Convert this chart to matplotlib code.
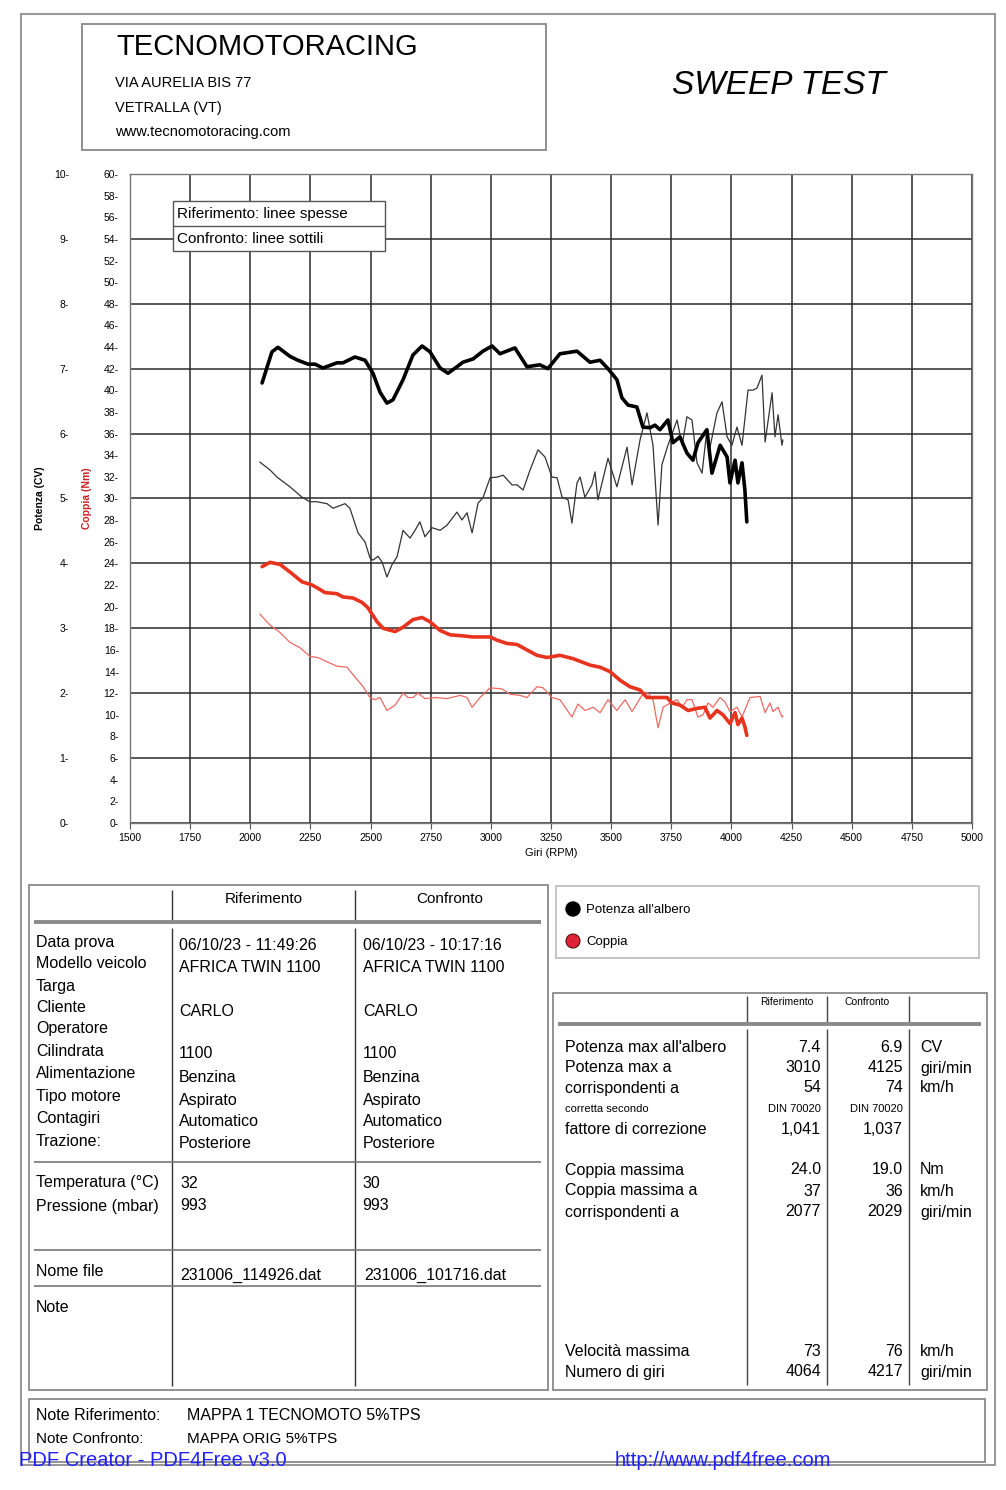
import matplotlib
matplotlib.use("Agg")
import matplotlib.pyplot as plt
from matplotlib.patches import Rectangle, Circle

W, H = 1006, 1490
FONT = ['Liberation Sans', 'DejaVu Sans']
plt.rcParams['font.family'] = FONT

# --- curve data (rpm, value) ---
# riferimento, potenza (CV) - thick black
rif_pot_rpm = [2049, 2090, 2115, 2165, 2198, 2240, 2269, 2302, 2360, 2385,
               2435, 2477, 2510, 2539, 2568, 2593, 2635, 2676, 2714, 2747,
               2789, 2822, 2859, 2884, 2926, 2967, 3005, 3038, 3100, 3150,
               3204, 3237, 3287, 3358, 3412, 3454, 3487, 3524, 3545, 3570,
               3607, 3632, 3662, 3682, 3703, 3736, 3757, 3786, 3815, 3840,
               3861, 3898, 3919, 3953, 3982, 3994, 4015, 4027, 4044, 4056, 4064]
rif_pot_cv = [6.78, 7.26, 7.33, 7.19, 7.13, 7.07, 7.07, 7.01, 7.09, 7.09,
              7.18, 7.13, 6.93, 6.64, 6.47, 6.52, 6.83, 7.21, 7.35, 7.26,
              7.01, 6.93, 7.03, 7.10, 7.15, 7.27, 7.35, 7.23, 7.32, 7.03,
              7.06, 7.00, 7.23, 7.27, 7.10, 7.13, 7.00, 6.83, 6.55, 6.44,
              6.41, 6.10, 6.09, 6.13, 6.06, 6.21, 5.86, 5.95, 5.70, 5.59,
              5.86, 6.06, 5.39, 5.82, 5.64, 5.24, 5.59, 5.24, 5.55, 5.13, 4.64]

# confronto, potenza (CV) - thin black
con_pot_rpm = [2040, 2082, 2111, 2165, 2215, 2248, 2277, 2319, 2344, 2394,
               2414, 2448, 2477, 2498, 2510, 2531, 2548, 2568, 2589, 2610,
               2635, 2664, 2685, 2705, 2726, 2755, 2789, 2818, 2859, 2880,
               2901, 2922, 2947, 2967, 2997, 3026, 3051, 3088, 3109, 3134,
               3163, 3196, 3225, 3254, 3275, 3296, 3321, 3337, 3358, 3371,
               3391, 3420, 3433, 3445, 3487, 3524, 3566, 3587, 3620, 3649,
               3674, 3695, 3711, 3736, 3774, 3795, 3815, 3836, 3857, 3878,
               3898, 3911, 3940, 3961, 3982, 4002, 4023, 4044, 4069, 4090,
               4106, 4127, 4140, 4169, 4181, 4194, 4210, 4214]
con_pot_cv = [5.56, 5.44, 5.33, 5.18, 5.02, 4.95, 4.95, 4.92, 4.85, 4.92,
              4.85, 4.47, 4.33, 4.08, 4.05, 4.11, 4.02, 3.79, 3.98, 4.10,
              4.51, 4.39, 4.51, 4.64, 4.41, 4.55, 4.51, 4.59, 4.79, 4.67,
              4.78, 4.47, 4.93, 5.01, 5.32, 5.33, 5.36, 5.21, 5.21, 5.13,
              5.44, 5.75, 5.64, 5.33, 5.32, 5.02, 4.98, 4.62, 5.24, 5.33,
              5.02, 5.21, 5.41, 4.98, 5.62, 5.18, 5.79, 5.21, 5.90, 6.32,
              5.82, 4.59, 5.52, 5.82, 6.21, 5.82, 6.26, 6.21, 5.55, 5.39,
              6.06, 5.79, 6.32, 6.49, 5.95, 5.82, 6.10, 5.82, 6.67, 6.67,
              6.70, 6.90, 5.87, 6.63, 5.95, 6.29, 5.82, 5.90]

# riferimento, coppia (Nm) - thick red
rif_cop_rpm = [2049, 2082, 2124, 2165, 2215, 2257, 2281, 2311, 2360, 2385,
               2427, 2464, 2489, 2527, 2552, 2602, 2635, 2676, 2714, 2747,
               2789, 2830, 2884, 2926, 2997, 3026, 3067, 3109, 3150, 3192,
               3233, 3287, 3341, 3412, 3454, 3495, 3537, 3578, 3620, 3649,
               3691, 3732, 3753, 3786, 3820, 3857, 3890, 3911, 3940, 3965,
               3994, 4015, 4027, 4044, 4056, 4064]
rif_cop_nm = [23.7, 24.1, 23.9, 23.2, 22.3, 22.0, 21.7, 21.3, 21.2, 20.9,
              20.8, 20.4, 19.9, 18.6, 18.0, 17.7, 18.1, 18.8, 19.0, 18.6,
              17.8, 17.4, 17.3, 17.2, 17.2, 16.9, 16.6, 16.5, 16.0, 15.5,
              15.3, 15.5, 15.2, 14.6, 14.4, 14.0, 13.2, 12.6, 12.3, 11.6,
              11.6, 11.6, 11.1, 10.9, 10.4, 10.6, 10.7, 9.7, 10.4, 10.0,
              9.2, 10.2, 9.1, 9.7, 8.9, 8.1]

# confronto, coppia (Nm) - thin red
con_cop_rpm = [2040, 2082, 2124, 2165, 2207, 2248, 2281, 2319, 2360, 2402,
               2435, 2469, 2498, 2518, 2539, 2568, 2602, 2635, 2656, 2676,
               2697, 2726, 2768, 2818, 2872, 2901, 2922, 2955, 2997, 3046,
               3080, 3121, 3150, 3192, 3217, 3254, 3287, 3337, 3362, 3391,
               3425, 3454, 3487, 3524, 3558, 3587, 3628, 3649, 3674, 3695,
               3716, 3753, 3774, 3795, 3815, 3836, 3861, 3882, 3903, 3923,
               3953, 3973, 3994, 4023, 4044, 4077, 4119, 4140, 4160, 4173,
               4194, 4210, 4214]
con_cop_nm = [19.3, 18.3, 17.6, 16.7, 16.2, 15.4, 15.3, 14.9, 14.5, 14.4,
              13.5, 12.6, 11.6, 11.4, 11.6, 10.4, 10.9, 12.0, 11.6, 11.6,
              12.0, 11.5, 11.6, 11.5, 11.8, 11.6, 10.7, 11.6, 12.5, 12.4,
              11.9, 11.8, 11.6, 12.6, 12.5, 11.6, 11.4, 9.8, 11.0, 10.4,
              10.7, 10.2, 11.4, 10.4, 11.4, 10.3, 11.8, 12.1, 11.4, 8.8,
              10.7, 11.2, 11.4, 10.7, 11.4, 11.4, 9.8, 10.0, 11.1, 10.7,
              11.6, 11.2, 10.3, 10.7, 9.8, 11.6, 11.7, 10.2, 11.1, 10.3,
              10.7, 9.8, 9.9]

rpm_ticks = list(range(1500, 5001, 250))
cv_ticks = list(range(0, 11))
nm_ticks = list(range(0, 61, 2))

# --- table contents ---
info_labels = ["Data prova", "Modello veicolo", "Targa", "Cliente", "Operatore",
               "Cilindrata", "Alimentazione", "Tipo motore", "Contagiri", "Trazione:"]
info_rif = ["06/10/23 - 11:49:26", "AFRICA TWIN 1100", "", "CARLO", "",
            "1100", "Benzina", "Aspirato", "Automatico", "Posteriore"]
info_con = ["06/10/23 - 10:17:16", "AFRICA TWIN 1100", "", "CARLO", "",
            "1100", "Benzina", "Aspirato", "Automatico", "Posteriore"]
amb_labels = ["Temperatura (°C)", "Pressione (mbar)"]
amb_rif = ["32", "993"]
amb_con = ["30", "993"]
file_rif = "231006_114926.dat"
file_con = "231006_101716.dat"

res_labels = ["Potenza max all'albero", "Potenza max a", "corrispondenti a",
              "corretta secondo", "fattore di correzione"]
res_rif = ["7.4", "3010", "54", "DIN 70020", "1,041"]
res_con = ["6.9", "4125", "74", "DIN 70020", "1,037"]
res_units = ["CV", "giri/min", "km/h", "", ""]
cop_labels = ["Coppia massima", "Coppia massima a", "corrispondenti a"]
cop_rif = ["24.0", "37", "2077"]
cop_con = ["19.0", "36", "2029"]
cop_units = ["Nm", "km/h", "giri/min"]
vel_labels = ["Velocità massima", "Numero di giri"]
vel_rif = ["73", "4064"]
vel_con = ["76", "4217"]
vel_units = ["km/h", "giri/min"]

fig = plt.figure(figsize=(W / 100, H / 100), dpi=100)
fig.patch.set_facecolor('white')

# main chart
ax = fig.add_axes([130 / W, 1 - 823 / H, 842 / W, 649 / H])
ax.set_xlim(1500, 5000)
ax.set_ylim(0, 10)
ax.set_xticks(rpm_ticks)
ax.set_yticks(cv_ticks)
ax.set_yticklabels([f"{v}-" for v in cv_ticks])
ax.grid(True, color='#2a2a2a', lw=1.1)
ax.set_axisbelow(True)
ax.tick_params(axis='y', length=0, pad=44, labelsize=7.5)
ax.tick_params(axis='x', direction='out', length=4, width=0.8, color='#555',
               labelsize=7.5, pad=3)
for s in ax.spines.values():
    s.set_color('#777')
    s.set_linewidth(1.0)
ax.set_xlabel("Giri (RPM)", fontsize=8, labelpad=4)

axt = ax.twinx()
axt.set_ylim(0, 60)
axt.set_yticks(nm_ticks)
axt.set_yticklabels([f"{v}-" for v in nm_ticks])
axt.yaxis.set_ticks_position('left')
axt.tick_params(axis='y', length=0, pad=8, labelsize=7.5)
for s in axt.spines.values():
    s.set_visible(False)

ax.plot(con_pot_rpm, con_pot_cv, color='#333333', lw=0.9, zorder=3)
ax.plot(rif_pot_rpm, rif_pot_cv, color='black', lw=2.6, zorder=4,
        solid_joinstyle='round', solid_capstyle='round')
axt.plot(con_cop_rpm, con_cop_nm, color='#f06a62', lw=0.9, zorder=3)
axt.plot(rif_cop_rpm, rif_cop_nm, color='#e8331f', lw=2.6, zorder=4,
         solid_joinstyle='round', solid_capstyle='round')

# overlay in pixel coordinates for the page layout
ov = fig.add_axes([0, 0, 1, 1], zorder=10)
ov.set_xlim(0, W)
ov.set_ylim(H, 0)
ov.set_axis_off()


def box(x0, y0, x1, y1, ec='#8a8a8a', lw=1.3, fc='none'):
    ov.add_patch(Rectangle((x0, y0), x1 - x0, y1 - y0, ec=ec, fc=fc, lw=lw))


def hl(x0, x1, y, c='#555', lw=1.0):
    ov.plot([x0, x1], [y, y], color=c, lw=lw, solid_capstyle='butt')


def vl(x, y0, y1, c='#333', lw=1.0):
    ov.plot([x, x], [y0, y1], color=c, lw=lw, solid_capstyle='butt')


def tx(x, y, s, size=11.5, ha='left', **kw):
    ov.text(x, y, s, fontsize=size, ha=ha, va='center', **kw)


# page border
box(21, 14, 995, 1465, ec='#999', lw=1.5)

# header
box(82, 24, 546, 150, ec='#888', lw=1.3)
tx(116, 47, "TECNOMOTORACING", size=21)
tx(115, 83, "VIA AURELIA BIS 77", size=10.5)
tx(115, 108, "VETRALLA (VT)", size=10.5)
tx(115, 132, "www.tecnomotoracing.com", size=10.5)
tx(672, 86, "SWEEP TEST", size=24, style='italic')

# axis titles
ov.text(40, 498, "Potenza (CV)", rotation=90, fontsize=7.5, weight='bold',
        ha='center', va='center')
ov.text(87, 498, "Coppia (Nm)", rotation=90, fontsize=7.5, weight='bold',
        color='#cc2222', ha='center', va='center')

# line-style legend inside the chart
box(173, 201, 385, 251, ec='#555', lw=1.0, fc='white')
hl(173, 385, 226, lw=1.0)
tx(177, 214, "Riferimento: linee spesse", size=11)
tx(177, 239, "Confronto: linee sottili", size=11)

# left info table
box(29, 885, 548, 1390)
tx(264, 899, "Riferimento", ha='center', size=11)
tx(450, 899, "Confronto", ha='center', size=11)
vl(172, 890, 921)
vl(355, 890, 921)
hl(34, 541, 922, c='#8a8a8a', lw=2.8)
vl(172, 928, 1386)
vl(355, 928, 1386)
row_y = [943, 964, 986, 1008, 1029, 1051, 1074, 1097, 1119, 1141]
for y, lab, a, b in zip(row_y, info_labels, info_rif, info_con):
    tx(36, y, lab)
    tx(179, y + 3, a)
    tx(363, y + 3, b)
hl(34, 541, 1162, c='#777', lw=1.2)
for y, lab, a, b in zip([1183, 1206], amb_labels, amb_rif, amb_con):
    tx(36, y, lab)
    tx(180, y, a)
    tx(362, y, b)
hl(34, 541, 1250, c='#777', lw=1.2)
tx(36, 1272, "Nome file")
tx(180, 1275, file_rif)
tx(364, 1275, file_con)
hl(34, 541, 1286, c='#777', lw=1.2)
tx(36, 1307, "Note")

# colour legend
box(556, 886, 979, 958, ec='#bbb', lw=1.2)
ov.add_patch(Circle((573, 909), 7, fc='black', ec='black'))
ov.add_patch(Circle((573, 941), 7, fc='#e02236', ec='#551111', lw=0.8))
tx(586, 910, "Potenza all'albero", size=9.5)
tx(586, 942, "Coppia", size=9.5)

# results table
box(553, 993, 987, 1390)
tx(787, 1002, "Riferimento", ha='center', size=7.5)
tx(867, 1002, "Confronto", ha='center', size=7.5)
for x in (747, 827, 909):
    vl(x, 996, 1022, c='#444')
    vl(x, 1029, 1385, c='#444')
hl(558, 981, 1024, c='#8a8a8a', lw=2.8)
res_y = [1048, 1068, 1088, 1109, 1129]
for i, (y, lab, a, b, u) in enumerate(zip(res_y, res_labels, res_rif, res_con, res_units)):
    sz = 8 if i == 3 else 11.5
    tx(565, y, lab, size=sz)
    tx(821, y, a, ha='right', size=sz)
    tx(903, y, b, ha='right', size=sz)
    tx(920, y, u)
for y, lab, a, b, u in zip([1170, 1191, 1212], cop_labels, cop_rif, cop_con, cop_units):
    tx(565, y, lab)
    tx(821, y, a, ha='right')
    tx(903, y, b, ha='right')
    tx(920, y, u)
for y, lab, a, b, u in zip([1352, 1372], vel_labels, vel_rif, vel_con, vel_units):
    tx(565, y, lab)
    tx(821, y, a, ha='right')
    tx(903, y, b, ha='right')
    tx(920, y, u)

# notes box
box(29, 1399, 985, 1462)
tx(36, 1416, "Note Riferimento:")
tx(187, 1416, "MAPPA 1 TECNOMOTO 5%TPS")
tx(36, 1439, "Note Confronto:", size=11)
tx(187, 1439, "MAPPA ORIG 5%TPS", size=11)

# pdf watermark
tx(19, 1460, "PDF Creator - PDF4Free v3.0", size=14.5, color='#2020ff')
tx(615, 1460, "http://www.pdf4free.com", size=14.5, color='#2020ff')

fig.savefig("out.png", dpi=100)
